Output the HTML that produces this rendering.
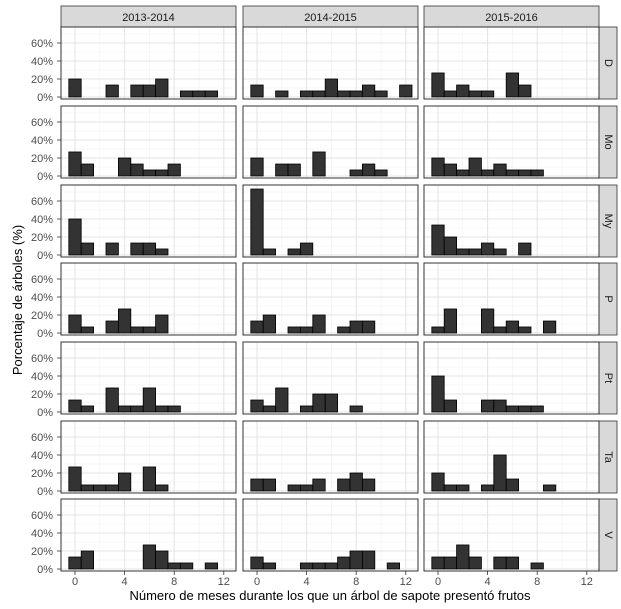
<!DOCTYPE html>
<html><head><meta charset="utf-8"><style>
body{margin:0;background:#fff;}
svg text{font-family:"Liberation Sans",sans-serif;}
</style></head><body>
<svg id="chart" width="621" height="604" xmlns="http://www.w3.org/2000/svg"></svg>
<script>
const seasons = ["2013-2014","2014-2015","2015-2016"];
const sites = ["D","Mo","My","P","Pt","Ta","V"];
const months = [0,1,2,3,4,5,6,7,8,9,10,11,12];
const xTicks = [0,4,8,12];
const yTicks = [0,20,40,60];
const yTickLabels = ["0%","20%","40%","60%"];
// values[site][season] = percent per month bin 0..12
const valD = [
 [20,0,0,13.3,0,13.3,13.3,20,0,6.7,6.7,6.7,0],
 [13.3,0,6.7,0,6.7,6.7,20,6.7,6.7,13.3,6.7,0,13.3],
 [26.7,6.7,13.3,6.7,6.7,0,26.7,13.3,0,0,0,0,0]];
const valMo = [
 [26.7,13.3,0,0,20,13.3,6.7,6.7,13.3,0,0,0,0],
 [20,0,13.3,13.3,0,26.7,0,0,6.7,13.3,6.7,0,0],
 [20,13.3,6.7,20,6.7,13.3,6.7,6.7,6.7,0,0,0,0]];
const valMy = [
 [40,13.3,0,13.3,0,13.3,13.3,6.7,0,0,0,0,0],
 [73.3,6.7,0,6.7,13.3,0,0,0,0,0,0,0,0],
 [33.3,20,6.7,6.7,13.3,6.7,0,13.3,0,0,0,0,0]];
const valP = [
 [20,6.7,0,13.3,26.7,6.7,6.7,20,0,0,0,0,0],
 [13.3,20,0,6.7,6.7,20,0,6.7,13.3,13.3,0,0,0],
 [6.7,26.7,0,0,26.7,6.7,13.3,6.7,0,13.3,0,0,0]];
const valPt = [
 [13.3,6.7,0,26.7,6.7,6.7,26.7,6.7,6.7,0,0,0,0],
 [13.3,6.7,26.7,0,6.7,20,20,0,6.7,0,0,0,0],
 [40,13.3,0,0,13.3,13.3,6.7,6.7,6.7,0,0,0,0]];
const valTa = [
 [26.7,6.7,6.7,6.7,20,0,26.7,6.7,0,0,0,0,0],
 [13.3,13.3,0,6.7,6.7,13.3,0,13.3,20,13.3,0,0,0],
 [20,6.7,6.7,0,6.7,40,13.3,0,0,6.7,0,0,0]];
const valV = [
 [13.3,20,0,0,0,0,26.7,20,6.7,6.7,0,6.7,0],
 [13.3,6.7,0,0,6.7,6.7,6.7,13.3,20,20,0,6.7,0],
 [13.3,13.3,26.7,13.3,0,13.3,13.3,0,6.7,0,0,0,0]];
const allVals = [valD,valMo,valMy,valP,valPt,valTa,valV];

const svg = document.getElementById('chart');
const NS = "http://www.w3.org/2000/svg";
function mk(tag, attrs){const e=document.createElementNS(NS,tag);for(const k in attrs)e.setAttribute(k,attrs[k]);svg.appendChild(e);return e;}
const colLeft=[61,243,424], panelW=175, rowTop=[27,106,185,263,342,421,499], panelH=72;
const unit=12.4, pctPx=0.9;
function xS(c,v){return colLeft[c]+14+v*unit;}
function yS(r,p){return rowTop[r]+70-p*pctPx;}

// top strips
seasons.forEach((s,c)=>{
  const r=mk('rect',{x:colLeft[c],y:6,width:panelW,height:21,fill:'#d9d9d9',stroke:'#333','stroke-width':0.8});
  
  
  const t=mk('text',{x:colLeft[c]+panelW/2,y:21,'font-size':11,'text-anchor':'middle',fill:'#1a1a1a'});
  t.textContent=s;
  
  
});

sites.forEach((site,r)=>{
  // right strip
  const sr=mk('rect',{x:599,y:rowTop[r],width:18,height:panelH,fill:'#d9d9d9',stroke:'#333','stroke-width':0.8});
  
  
  const cy=rowTop[r]+panelH/2;
  const st=mk('text',{x:608,y:cy,'font-size':11,'text-anchor':'middle','dominant-baseline':'central',fill:'#1a1a1a',transform:`rotate(90 608 ${cy})`});
  st.textContent=site;
  
  
  // y tick labels
  yTicks.forEach((v,i)=>{
    const t=mk('text',{x:53,y:yS(r,v)+4,'font-size':11,'text-anchor':'end',fill:'#4d4d4d'});
    t.textContent=yTickLabels[i];
    
    
    mk('line',{x1:57,x2:61,y1:yS(r,v),y2:yS(r,v),stroke:'#333','stroke-width':0.8});
  });
  seasons.forEach((s,c)=>{
    const bg=mk('rect',{x:colLeft[c],y:rowTop[r],width:panelW,height:panelH,fill:'#fff'});
    
    
    // grid
    [10,30,50,70].forEach(v=>mk('line',{x1:colLeft[c],x2:colLeft[c]+panelW,y1:yS(r,v),y2:yS(r,v),stroke:'#f0f0f0','stroke-width':0.6}));
    [2,6,10].forEach(v=>mk('line',{x1:xS(c,v),x2:xS(c,v),y1:rowTop[r],y2:rowTop[r]+panelH,stroke:'#f0f0f0','stroke-width':0.6}));
    yTicks.forEach(v=>mk('line',{x1:colLeft[c],x2:colLeft[c]+panelW,y1:yS(r,v),y2:yS(r,v),stroke:'#e3e3e3','stroke-width':1}));
    xTicks.forEach(v=>mk('line',{x1:xS(c,v),x2:xS(c,v),y1:rowTop[r],y2:rowTop[r]+panelH,stroke:'#e3e3e3','stroke-width':1}));
    const vals=allVals[r][c];
    months.forEach((m,i)=>{
      const y=yS(r,vals[i]), y0=yS(r,0);
      const b=mk('rect',{x:xS(c,m-0.5),y:y,width:unit,height:Math.max(0,y0-y),fill:'#333',stroke:'#000','stroke-width':0.8});
      
      
    });
    const bd=mk('rect',{x:colLeft[c],y:rowTop[r],width:panelW,height:panelH,fill:'none',stroke:'#333','stroke-width':1});
    
    
  });
});
// x ticks
seasons.forEach((s,c)=>{
  xTicks.forEach(v=>{
    mk('line',{x1:xS(c,v),x2:xS(c,v),y1:571,y2:575,stroke:'#333','stroke-width':0.8});
    const t=mk('text',{x:xS(c,v),y:585,'font-size':11,'text-anchor':'middle',fill:'#4d4d4d'});
    t.textContent=v;
    
    
  });
});
const xt=mk('text',{x:330,y:600,'font-size':13,'text-anchor':'middle',fill:'#000'});
xt.textContent="Número de meses durante los que un árbol de sapote presentó frutos";


const yt=mk('text',{x:22,y:300,'font-size':13,'text-anchor':'middle',fill:'#000',transform:'rotate(-90 22 300)'});
yt.textContent="Porcentaje de árboles (%)";


</script>
</body></html>
